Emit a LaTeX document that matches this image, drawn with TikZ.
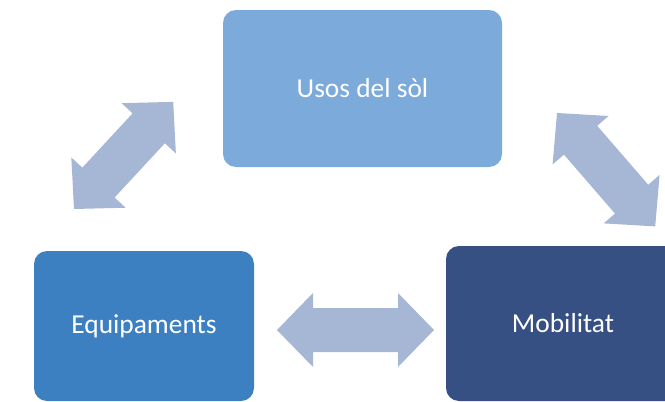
\documentclass[tikz,border=0pt]{standalone}
\usepackage{fontspec}
\setmainfont{Carlito}
\definecolor{usoscol}{HTML}{7BAADB}
\definecolor{equipcol}{HTML}{3D80C2}
\definecolor{mobilcol}{HTML}{375084}
\definecolor{arrowcol}{HTML}{A6B7D5}
\begin{document}
\begin{tikzpicture}[x=1pt,y=1pt,
  boxnode/.style={rectangle, rounded corners=13pt, inner sep=0pt, text=white,
    font=\fontsize{27.4}{33}\selectfont},
  pics/dblarrow/.style={code={%
    \fill[arrowcol] (0,0) -- (36,37) -- (36,22) -- (#1-36,22) -- (#1-36,37) -- (#1,0)
      -- (#1-36,-37) -- (#1-36,-22) -- (36,-22) -- (36,-37) -- cycle;}}]
\useasboundingbox (0,0) rectangle (665,-402);
\clip (0,0) rectangle (665,-402);
\node[boxnode, fill=usoscol, minimum width=279pt, minimum height=157pt] (usos) at (362.5,-88.5) {Usos del sòl};
\node[boxnode, fill=equipcol, minimum width=220pt, minimum height=150pt] (equip) at (144,-326) {Equipaments};
\node[boxnode, fill=mobilcol, minimum width=234pt, minimum height=155pt] (mobil) at (563,-323.5) {Mobilitat};
% block arrows
\coordinate (la) at (74,-209);
\coordinate (ra) at (557,-113);
\coordinate (ba) at (277,-330);
\pic[rotate=47.2] at (la) {dblarrow=146};
\pic[rotate=-49.1] at (ra) {dblarrow=150};
\pic at (ba) {dblarrow=157};
\end{tikzpicture}
\end{document}
